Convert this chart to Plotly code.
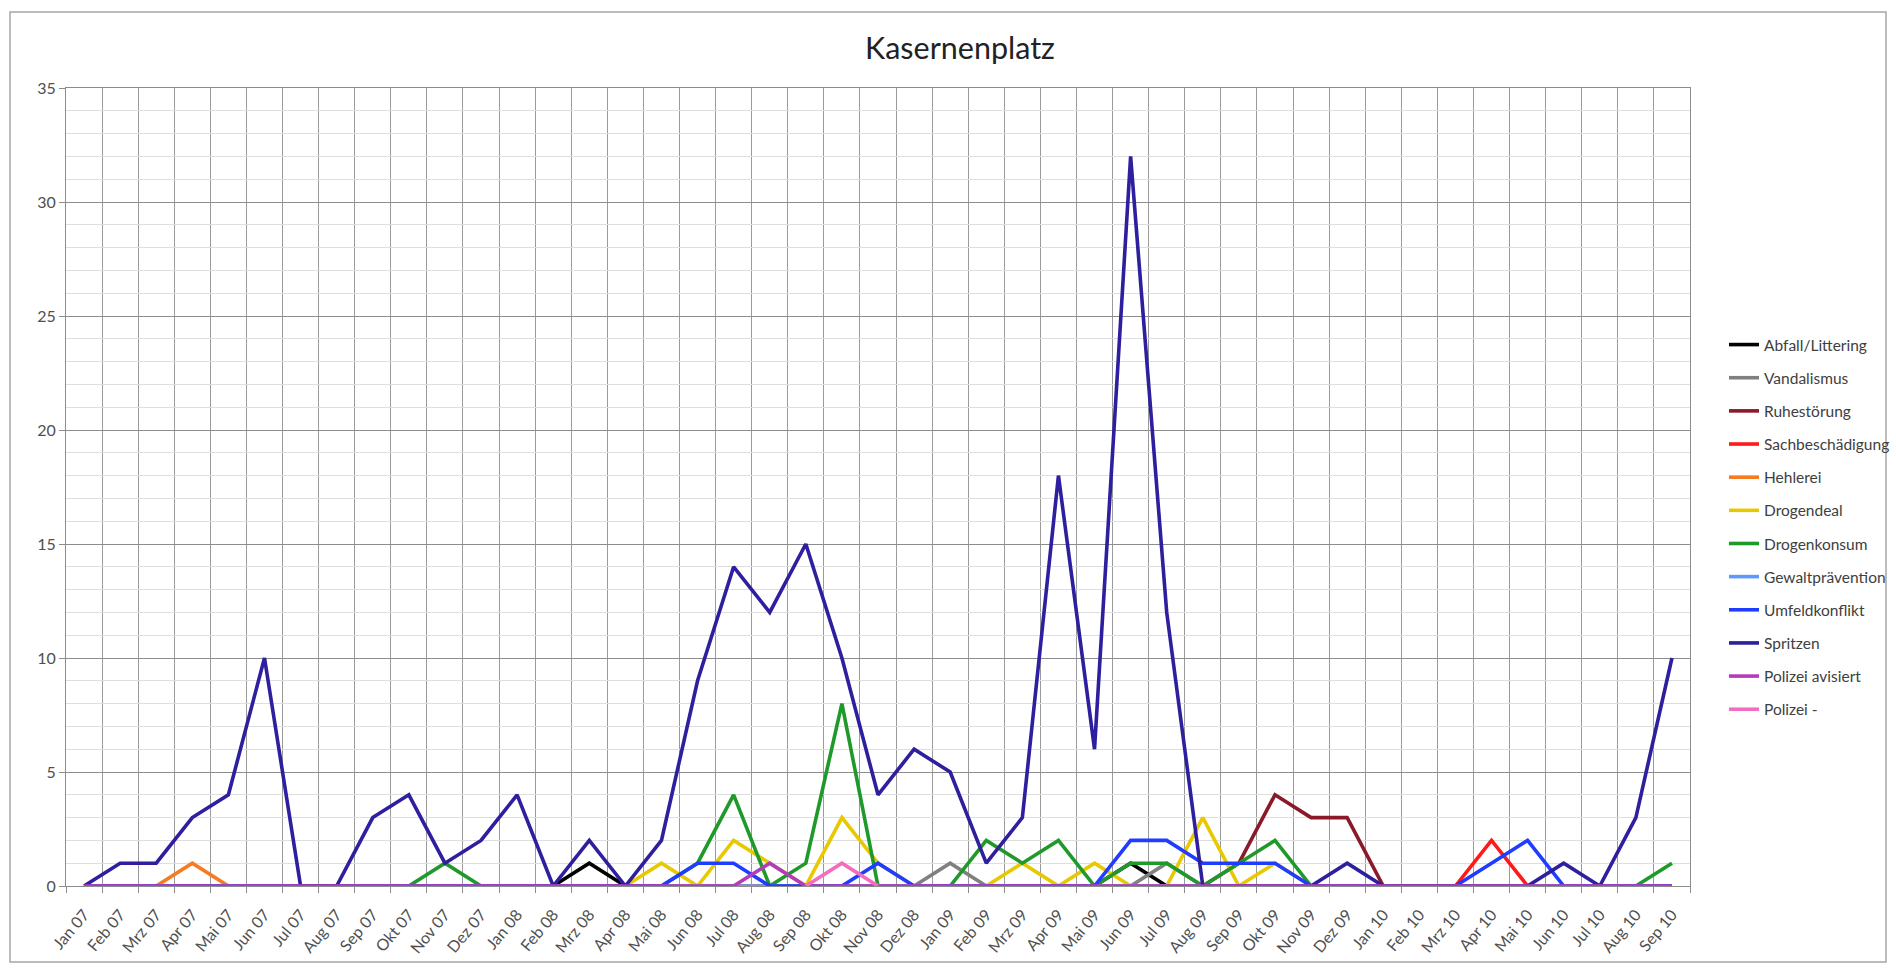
import plotly.graph_objects as go

# Monthly categories (Jan 2007 - Sep 2010)
months = [
    "Jan 07", "Feb 07", "Mrz 07", "Apr 07", "Mai 07", "Jun 07", "Jul 07", "Aug 07", "Sep 07", "Okt 07", "Nov 07", "Dez 07",
    "Jan 08", "Feb 08", "Mrz 08", "Apr 08", "Mai 08", "Jun 08", "Jul 08", "Aug 08", "Sep 08", "Okt 08", "Nov 08", "Dez 08",
    "Jan 09", "Feb 09", "Mrz 09", "Apr 09", "Mai 09", "Jun 09", "Jul 09", "Aug 09", "Sep 09", "Okt 09", "Nov 09", "Dez 09",
    "Jan 10", "Feb 10", "Mrz 10", "Apr 10", "Mai 10", "Jun 10", "Jul 10", "Aug 10", "Sep 10",
]

abfall_littering = [
    0, 0, 0, 0, 0, 0, 0, 0, 0, 0, 0, 0,
    0, 0, 1, 0, 0, 0, 0, 0, 0, 0, 0, 0,
    0, 0, 0, 0, 0, 1, 0, 0, 0, 0, 0, 0,
    0, 0, 0, 0, 0, 0, 0, 0, 0,
]
vandalismus = [
    0, 0, 0, 0, 0, 0, 0, 0, 0, 0, 0, 0,
    0, 0, 0, 0, 0, 0, 0, 0, 0, 0, 0, 0,
    1, 0, 0, 0, 0, 0, 1, 0, 0, 0, 0, 0,
    0, 0, 0, 0, 0, 0, 0, 0, 0,
]
ruhestoerung = [
    0, 0, 0, 0, 0, 0, 0, 0, 0, 0, 0, 0,
    0, 0, 0, 0, 0, 0, 0, 0, 0, 0, 0, 0,
    0, 0, 0, 0, 0, 0, 0, 0, 1, 4, 3, 3,
    0, 0, 0, 0, 0, 0, 0, 0, 0,
]
sachbeschaedigung = [
    0, 0, 0, 0, 0, 0, 0, 0, 0, 0, 0, 0,
    0, 0, 0, 0, 0, 0, 0, 0, 0, 0, 0, 0,
    0, 0, 0, 0, 0, 0, 0, 0, 0, 0, 0, 0,
    0, 0, 0, 2, 0, 0, 0, 0, 0,
]
hehlerei = [
    0, 0, 0, 1, 0, 0, 0, 0, 0, 0, 0, 0,
    0, 0, 0, 0, 0, 0, 0, 0, 0, 0, 0, 0,
    0, 0, 0, 0, 0, 0, 0, 0, 0, 0, 0, 0,
    0, 0, 0, 0, 0, 0, 0, 0, 0,
]
drogendeal = [
    0, 0, 0, 0, 0, 0, 0, 0, 0, 0, 0, 0,
    0, 0, 0, 0, 1, 0, 2, 1, 0, 3, 1, 0,
    0, 0, 1, 0, 1, 0, 0, 3, 0, 1, 0, 0,
    0, 0, 0, 0, 0, 0, 0, 0, 0,
]
drogenkonsum = [
    0, 0, 0, 0, 0, 0, 0, 0, 0, 0, 1, 0,
    0, 0, 0, 0, 0, 1, 4, 0, 1, 8, 0, 0,
    0, 2, 1, 2, 0, 1, 1, 0, 1, 2, 0, 0,
    0, 0, 0, 0, 0, 0, 0, 0, 1,
]
gewaltpraevention = [
    0, 0, 0, 0, 0, 0, 0, 0, 0, 0, 0, 0,
    0, 0, 0, 0, 0, 0, 0, 0, 0, 0, 0, 0,
    0, 0, 0, 0, 0, 0, 0, 0, 0, 0, 0, 0,
    0, 0, 0, 0, 0, 0, 0, 0, 0,
]
umfeldkonflikt = [
    0, 0, 0, 0, 0, 0, 0, 0, 0, 0, 0, 0,
    0, 0, 0, 0, 0, 1, 1, 0, 0, 0, 1, 0,
    0, 0, 0, 0, 0, 2, 2, 1, 1, 1, 0, 0,
    0, 0, 0, 1, 2, 0, 0, 0, 0,
]
spritzen = [
    0, 1, 1, 3, 4, 10, 0, 0, 3, 4, 1, 2,
    4, 0, 2, 0, 2, 9, 14, 12, 15, 10, 4, 6,
    5, 1, 3, 18, 6, 32, 12, 0, 0, 0, 0, 1,
    0, 0, 0, 0, 0, 1, 0, 3, 10,
]
polizei_avisiert = [
    0, 0, 0, 0, 0, 0, 0, 0, 0, 0, 0, 0,
    0, 0, 0, 0, 0, 0, 0, 1, 0, 0, 0, 0,
    0, 0, 0, 0, 0, 0, 0, 0, 0, 0, 0, 0,
    0, 0, 0, 0, 0, 0, 0, 0, 0,
]
polizei_minus = [
    None, None, None, None, None, None, None, None, None, None, None, None,
    None, None, None, None, None, None, None, None, 0, 1, 0, None,
    None, None, None, None, None, None, None, None, None, None, None, None,
    None, None, None, None, None, None, None, None, None,
]

series_names = [
    "Abfall/Littering", "Vandalismus", "Ruhestörung", "Sachbeschädigung", "Hehlerei",
    "Drogendeal", "Drogenkonsum", "Gewaltprävention", "Umfeldkonflikt", "Spritzen",
    "Polizei avisiert", "Polizei -",
]
series_values = [
    abfall_littering, vandalismus, ruhestoerung, sachbeschaedigung, hehlerei,
    drogendeal, drogenkonsum, gewaltpraevention, umfeldkonflikt, spritzen,
    polizei_avisiert, polizei_minus,
]
series_colors = [
    "#000000", "#808080", "#8a1a2a", "#ff1a1a", "#f57c20",
    "#e8c800", "#1f9a2a", "#5b9bff", "#1f3cff", "#2d1f9e",
    "#b23cba", "#f46cc0",
]

# Pixel geometry of the page
W, H = 1896, 972
PL, PR, PT, PB = 66, 1690, 88, 886


def px_x(v):
    return (v - PL) / (PR - PL)


def px_y(v):
    return (PB - v) / (PB - PT)


FONT = "Lato, 'Open Sans', sans-serif"
x_idx = list(range(len(months)))

fig = go.Figure()
for name, vals, col in zip(series_names, series_values, series_colors):
    fig.add_trace(go.Scatter(
        x=x_idx, y=vals, name=name, mode="lines",
        line=dict(color=col, width=3.6),
        legendgroup=name, connectgaps=False,
    ))

fig.update_layout(
    width=W, height=H,
    margin=dict(l=PL, r=W - PR, t=PT, b=H - PB, pad=0, autoexpand=False),
    paper_bgcolor="white", plot_bgcolor="white",
    font=dict(family=FONT, color="#404040"),
    title=dict(text="Kasernenplatz", x=960 / W, xanchor="center",
               y=1 - 48 / H, yanchor="middle",
               font=dict(family=FONT, size=30.5, color="#222222")),
    showlegend=True,
    legend=dict(
        x=px_x(1724), xanchor="left", y=px_y(328), yanchor="top",
        traceorder="grouped", tracegroupgap=10,
        font=dict(family=FONT, size=15.5, color="#404040"),
        bgcolor="rgba(0,0,0,0)", borderwidth=0,
    ),
    xaxis=dict(
        range=[-0.5, len(months) - 0.5],
        tickmode="array", tickvals=x_idx, ticktext=months,
        tickangle=-50, ticks="", showgrid=False, zeroline=False,
        ticklabelstandoff=12, automargin=False,
        tickfont=dict(family=FONT, size=16, color="#505050"),
        showline=True, linecolor="#8c8c8c", linewidth=1, mirror=True,
        minor=dict(tick0=-0.5, dtick=1, showgrid=True, gridcolor="#9a9a9a", gridwidth=1,
                   ticks="outside", ticklen=6, tickcolor="#8c8c8c"),
    ),
    yaxis=dict(
        range=[0, 35], tick0=0, dtick=5,
        ticks="outside", ticklen=6, tickcolor="#8c8c8c", automargin=False,
        showgrid=True, gridcolor="#8c8c8c", gridwidth=1, zeroline=False,
        tickfont=dict(family=FONT, size=16, color="#505050"),
        showline=True, linecolor="#8c8c8c", linewidth=1, mirror=True,
        minor=dict(dtick=1, showgrid=True, gridcolor="#dedede", gridwidth=1),
    ),
)

# Outer chart frame
fig.add_shape(type="rect", xref="paper", yref="paper",
              x0=px_x(10), x1=px_x(1886), y0=px_y(962), y1=px_y(12),
              line=dict(color="#a6a6a6", width=1.5), fillcolor="rgba(0,0,0,0)", layer="below")

fig.write_html("out.html")
